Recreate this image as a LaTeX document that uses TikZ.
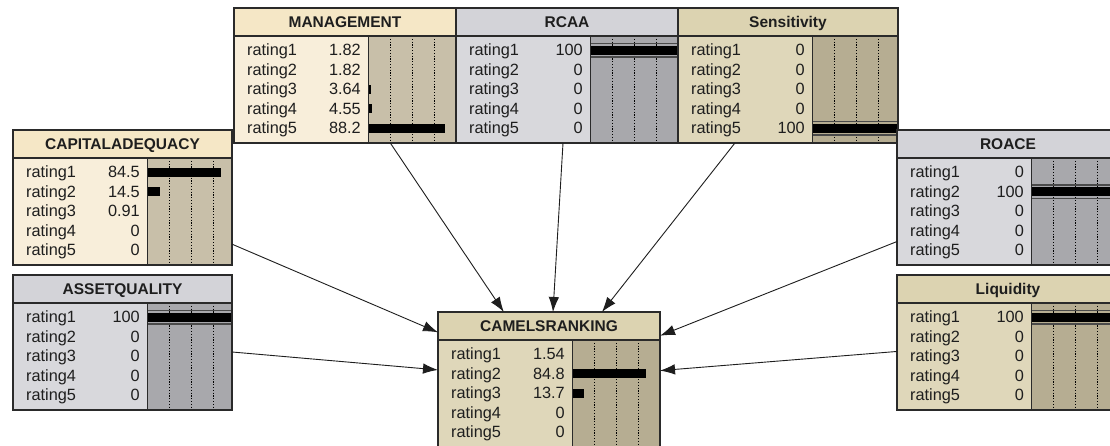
\documentclass[tikz,border=0pt]{standalone}
\usepackage{fontspec}
\setmainfont{Liberation Sans}
\usetikzlibrary{arrows.meta}

% node palettes: title bar (T), label area (L), bar area (B)
\definecolor{crT}{HTML}{F5E7C6}
\definecolor{crL}{HTML}{F8EEDA}
\definecolor{crB}{HTML}{C8BFA9}
\definecolor{gyT}{HTML}{D3D3D8}
\definecolor{gyL}{HTML}{D8D8DC}
\definecolor{gyB}{HTML}{A8A8AC}
\definecolor{tnT}{HTML}{DCD3B1}
\definecolor{tnL}{HTML}{DFD7BA}
\definecolor{tnB}{HTML}{B6AD92}
\definecolor{edge}{HTML}{2A2A2A}
\definecolor{ink}{HTML}{1E1E1E}

\tikzset{
  netbox/.style={draw=edge, line width=1.3pt, rectangle, inner sep=0pt,
    outer sep=0pt, minimum height=135pt, anchor=north west},
  titletext/.style={inner sep=0pt, text=ink, anchor=base,
    font=\bfseries\fontsize{15.5}{18}\selectfont},
  rowtext/.style={inner sep=0pt, text=ink, font=\fontsize{16.3}{19}\selectfont},
  gridline/.style={black, line width=0.9pt, dash pattern=on 1.2pt off 1.6pt},
  splitline/.style={edge, line width=1pt},
  fullmark/.style={edge!85, line width=1.4pt},
  link/.style={ink, line width=0.9pt, -{Latex[length=15pt,width=10.5pt]}},
}

% \bnnode{name}{left}{top}{palette}{title}{values}{width}
\newcommand\bnnode[7]{%
  \begin{scope}[shift={(#2,#3)}]
    \fill[#4T] (0,0) rectangle (#7,28);
    \fill[#4L] (0,28) rectangle (134,135);
    \fill[#4B] (134,28) rectangle (#7,135);
    \foreach \dx in {22,44,66} \draw[gridline] (134+\dx,28) -- (134+\dx,135);
    \node[titletext] at ({#7/2},19.5) {#5};
    \foreach \v [count=\i] in {#6} {
      \pgfmathsetmacro\yy{28+14+19.5*(\i-1)}
      \node[rowtext, anchor=base west] at (13,{\yy+5.5}) {rating\i};
      \node[rowtext, anchor=base east] at (127,{\yy+5.5}) {\v};
      \pgfmathsetmacro\bw{min(0.87*\v,#7-134)}
      \ifdim\bw pt>2.5pt
        \fill[black] (134,{\yy-4.5}) rectangle ({134+\bw},{\yy+4.5});
      \fi
      \ifdim\v pt=100pt
        \draw[fullmark] (134,{\yy-6.5}) -- (#7,{\yy-6.5});
        \draw[fullmark] (134,{\yy+6.8}) -- (#7,{\yy+6.8});
      \fi
    }
    \draw[splitline] (134,28) -- (134,135);
    \draw[edge, line width=1.3pt] (0,28) -- (#7,28);
  \end{scope}
  \node[netbox, minimum width=#7pt] (#1) at (#2,#3) {};
}

\begin{document}
\begin{tikzpicture}[x=1pt, y=-1pt]
  \useasboundingbox (0,0) rectangle (1110,445);
  \clip (0,0) rectangle (1110,445);
  \fill[white] (0,0) rectangle (1110,445);

  \bnnode{mgmt}{234}{8}{cr}{MANAGEMENT}{1.82,1.82,3.64,4.55,88.2}{222}
  \bnnode{rcaa}{456}{8}{gy}{RCAA}{100,0,0,0,0}{222}
  \bnnode{sens}{678}{8}{tn}{Sensitivity}{0,0,0,0,100}{220}
  \bnnode{capad}{13}{130}{cr}{CAPITALADEQUACY}{84.5,14.5,0.91,0,0}{219}
  \bnnode{asset}{13}{275}{gy}{ASSETQUALITY}{100,0,0,0,0}{219}
  \bnnode{roace}{897}{130}{gy}{ROACE}{0,100,0,0,0}{222}
  \bnnode{liq}{897}{275}{tn}{Liquidity}{100,0,0,0,0}{222}
  \bnnode{camels}{438}{312}{tn}{CAMELSRANKING}{1.54,84.8,13.7,0,0}{222}

  \draw[link] (mgmt) -- (camels);
  \draw[link] (rcaa) -- (camels);
  \draw[link] (sens) -- (camels);
  \draw[link] (capad) -- (camels);
  \draw[link] (asset) -- (camels);
  \draw[link] (roace) -- (camels);
  \draw[link] (liq) -- (camels);
\end{tikzpicture}
\end{document}
